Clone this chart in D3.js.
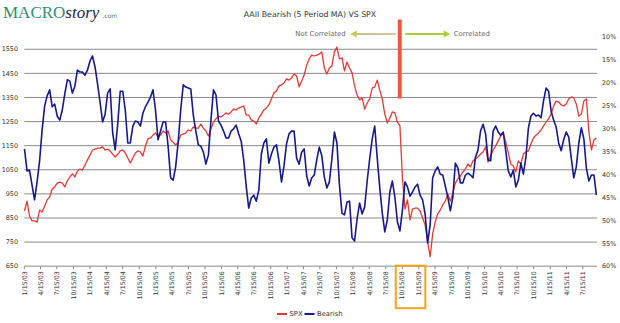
<!DOCTYPE html>
<html>
<head>
<meta charset="utf-8">
<script src="https://cdn.jsdelivr.net/npm/d3@7"></script>
<style>
  html, body { margin: 0; padding: 0; background: #fff; }
  svg { display: block; }
  text { font-family: "DejaVu Sans", Verdana, sans-serif; }
</style>
</head>
<body>
<svg id="chart" width="620" height="323"></svg>
<script>
// Fortnightly observations, first one on 16 Jan 2003
const firstObservation = "2003-01-16";
const observationStepDays = 14;

// S&P 500 index level
const spx = [
  879, 920, 858, 838, 838, 833, 883, 875, 900, 925,
  937, 970, 979, 995, 999, 995, 979, 1004, 1020, 1033,
  1020, 1045, 1053, 1049, 1070, 1091, 1111, 1132, 1136, 1140,
  1140, 1145, 1132, 1136, 1128, 1115, 1103, 1115, 1128, 1132,
  1120, 1099, 1078, 1099, 1120, 1128, 1124, 1107, 1149, 1178,
  1182, 1194, 1203, 1186, 1194, 1211, 1203, 1211, 1174, 1165,
  1153, 1165, 1194, 1198, 1203, 1215, 1211, 1228, 1223, 1223,
  1240, 1223, 1211, 1190, 1219, 1248, 1261, 1273, 1269, 1277,
  1286, 1281, 1290, 1302, 1298, 1306, 1310, 1315, 1277, 1277,
  1257, 1252, 1240, 1265, 1281, 1298, 1306, 1319, 1344, 1369,
  1377, 1398, 1402, 1410, 1427, 1422, 1431, 1447, 1439, 1394,
  1418, 1443, 1485, 1510, 1526, 1522, 1526, 1530, 1539, 1472,
  1447, 1472, 1481, 1539, 1559, 1510, 1514, 1460, 1497, 1472,
  1452, 1398, 1360, 1340, 1348, 1302, 1327, 1344, 1389, 1394,
  1422, 1381, 1344, 1281, 1244, 1265, 1290, 1286, 1248, 1232,
  1016, 887, 925, 842, 887, 891, 891, 879, 850, 821,
  750, 690, 784, 833, 867, 883, 904, 920, 950, 920,
  954, 995, 1012, 1024, 1041, 1053, 1074, 1062, 1087, 1095,
  1103, 1115, 1124, 1145, 1082, 1107, 1132, 1149, 1169, 1190,
  1203, 1165, 1120, 1074, 1066, 1041, 1087, 1074, 1115, 1124,
  1128, 1157, 1182, 1194, 1203, 1215, 1232, 1248, 1261, 1281,
  1315, 1335, 1331, 1319, 1315, 1323, 1344, 1352, 1348, 1323,
  1273, 1281, 1335, 1344, 1207, 1132, 1174, 1182
];

// AAII bearish share, 5-period moving average (%)
const bearish = [
  34.4, 39.2, 39.0, 42.3, 45.5, 41.6, 37.0, 30.3, 25.0, 22.8,
  21.5, 25.2, 24.6, 27.2, 28.1, 25.9, 22.4, 19.3, 19.6, 22.2,
  20.7, 17.2, 17.6, 17.6, 18.3, 17.2, 15.2, 14.1, 16.5, 20.2,
  24.2, 28.5, 26.8, 22.2, 21.3, 30.9, 34.6, 29.0, 21.8, 21.8,
  25.9, 33.1, 33.1, 29.4, 28.3, 28.5, 29.4, 26.6, 25.2, 24.2,
  23.1, 21.5, 25.9, 32.4, 30.5, 28.5, 28.5, 33.8, 40.7, 41.2,
  38.3, 32.9, 25.9, 20.4, 20.9, 21.1, 21.3, 27.0, 30.5, 33.5,
  33.8, 35.1, 37.7, 35.7, 28.1, 21.5, 22.6, 28.3, 29.2, 30.5,
  32.0, 32.0, 30.5, 30.0, 29.2, 31.1, 32.7, 36.8, 42.5, 47.3,
  45.1, 44.5, 45.8, 43.4, 35.5, 33.1, 32.2, 37.5, 35.5, 34.0,
  33.5, 37.0, 41.6, 38.1, 33.3, 31.1, 30.5, 30.5, 36.4, 37.7,
  35.1, 34.4, 40.3, 42.5, 40.7, 40.1, 36.8, 34.0, 35.9, 40.5,
  42.9, 41.6, 36.6, 30.7, 33.1, 42.3, 48.4, 48.8, 46.0, 45.8,
  53.8, 54.5, 49.7, 46.2, 48.6, 47.1, 41.4, 36.6, 32.2, 29.4,
  36.4, 42.9, 48.4, 52.5, 49.9, 43.8, 41.4, 44.9, 50.3, 52.3,
  47.7, 41.6, 42.7, 44.7, 43.8, 42.7, 42.1, 44.5, 45.5, 48.6,
  54.9, 51.0, 40.7, 39.2, 38.3, 39.9, 40.1, 42.5, 44.9, 47.9,
  44.9, 37.5, 38.6, 41.8, 41.8, 40.1, 39.7, 40.1, 40.7, 36.2,
  34.6, 30.5, 29.0, 31.1, 36.8, 37.0, 30.5, 29.4, 30.7, 31.4,
  30.7, 34.8, 39.2, 40.5, 39.0, 42.7, 41.2, 37.5, 39.9, 36.2,
  29.8, 27.2, 26.6, 27.2, 27.0, 27.6, 23.9, 21.1, 21.8, 26.1,
  28.1, 29.6, 33.1, 34.8, 32.4, 30.7, 31.8, 36.4, 40.7, 38.3,
  33.1, 29.8, 32.2, 38.6, 41.4, 40.1, 40.1, 44.5
];

const spxTicks = [650, 750, 850, 950, 1050, 1150, 1250, 1350, 1450, 1550];
const bearishTicks = [10, 15, 20, 25, 30, 35, 40, 45, 50, 55, 60];
const dateTicks = [
  "1/15/03", "4/15/03", "7/15/03", "10/15/03",
  "1/15/04", "4/15/04", "7/15/04", "10/15/04",
  "1/15/05", "4/15/05", "7/15/05", "10/15/05",
  "1/15/06", "4/15/06", "7/15/06", "10/15/06",
  "1/15/07", "4/15/07", "7/15/07", "10/15/07",
  "1/15/08", "4/15/08", "7/15/08", "10/15/08",
  "1/15/09", "4/15/09", "7/15/09", "10/15/09",
  "1/15/10", "4/15/10", "7/15/10", "10/15/10",
  "1/15/11", "4/15/11", "7/15/11"
];
const highlightedTicks = ["10/15/08", "1/15/09"];
const breakDate = "2008-10-01";
const seriesNames = ["SPX", "Bearish"];
const title = "AAII Bearish (5 Period MA) VS SPX";
const leftNote = "Not Correlated";
const rightNote = "Correlated";

const C = {
  spx: "#e23b36",
  bearish: "#15198c",
  grid: "#8a8a8a",
  text: "#333",
  note: "#666",
  teal: "#2f8c7a",
  navy: "#1d2440",
  bar: "#f2563f",
  box: "#f4a41c",
  arrowR: "#a9d03a"
};

const svg = d3.select("#chart");
const parseTick = d3.timeParse("%m/%d/%y");
const parseIso = d3.timeParse("%Y-%m-%d");
const start = parseIso(firstObservation);
const dates = spx.map((_, i) => d3.timeDay.offset(start, i * observationStepDays));

const plot = { left: 24.3, right: 597, top: 37.2, bottom: 266.2 };

const x = d3.scaleTime()
  .domain([parseTick("1/15/03"), new Date(2011, 9, 2)])
  .range([plot.left, plot.right]);
const yL = d3.scaleLinear().domain([650, 1600]).range([plot.bottom, plot.top]);
const yR = d3.scaleLinear().domain([10, 60]).range([plot.top, plot.bottom]);

// Logo
const logo = svg.append("text").attr("x", 3).attr("y", 18.3)
  .style("font-family", "'Liberation Serif', 'Times New Roman', serif");
logo.append("tspan").text("MACRO").attr("fill", C.teal).style("font-size", "17px");
logo.append("tspan").text("story").attr("fill", C.navy)
  .style("font-size", "17px").style("font-style", "italic");
logo.append("tspan").text(".com").attr("fill", "#4a6f7d")
  .attr("dx", 3).style("font-size", "6px").style("font-family", "'DejaVu Sans', sans-serif");

// Title
svg.append("text").attr("x", 310).attr("y", 17.3).attr("text-anchor", "middle")
  .attr("fill", C.text).style("font-size", "7.8px").text(title);

// Horizontal gridlines (left axis)
svg.append("g").selectAll("line").data(spxTicks).join("line")
  .attr("x1", plot.left).attr("x2", plot.right)
  .attr("y1", d => yL(d)).attr("y2", d => yL(d))
  .attr("stroke", C.grid).attr("stroke-width", 1);

// Left axis labels
svg.append("g").selectAll("text").data(spxTicks).join("text")
  .attr("x", 18).attr("y", d => yL(d)).attr("dy", "0.35em")
  .attr("text-anchor", "end").attr("fill", C.text)
  .style("font-size", "6.4px").text(d => d);

// Right axis labels
svg.append("g").selectAll("text").data(bearishTicks).join("text")
  .attr("x", 602).attr("y", d => yR(d)).attr("dy", "0.35em")
  .attr("fill", C.text).style("font-size", "6.4px").text(d => d + "%");

// Bottom ticks and rotated date labels
const tickDates = dateTicks.map(parseTick);
svg.append("g").selectAll("line").data(tickDates).join("line")
  .attr("x1", d => x(d)).attr("x2", d => x(d))
  .attr("y1", plot.bottom).attr("y2", plot.bottom + 3)
  .attr("stroke", C.grid).attr("stroke-width", 1);
svg.append("g").selectAll("text").data(dateTicks).join("text")
  .attr("transform", d => `translate(${x(parseTick(d))},${plot.bottom + 5}) rotate(-90)`)
  .attr("dy", "0.35em").attr("text-anchor", "end")
  .attr("fill", C.text).style("font-size", "6.3px").text(d => d);

// Series lines
const lineL = d3.line().x((d, i) => x(dates[i])).y(d => yL(d));
const lineR = d3.line().x((d, i) => x(dates[i])).y(d => yR(d));
svg.append("path").datum(spx).attr("d", lineL)
  .attr("fill", "none").attr("stroke", C.spx).attr("stroke-width", 1.3)
  .attr("stroke-linejoin", "round");
svg.append("path").datum(bearish).attr("d", lineR)
  .attr("fill", "none").attr("stroke", C.bearish).attr("stroke-width", 1.6)
  .attr("stroke-linejoin", "round");

// Regime break marker
const bx = x(parseIso(breakDate));
svg.append("rect").attr("x", bx - 2).attr("y", 19.5).attr("width", 4).attr("height", 79)
  .attr("fill", C.bar);

// Arrows and notes
const defs = svg.append("defs");
const grad = defs.append("linearGradient").attr("id", "leftArrow")
  .attr("x1", "0%").attr("x2", "100%");
grad.append("stop").attr("offset", "0%").attr("stop-color", "#b9cc45");
grad.append("stop").attr("offset", "35%").attr("stop-color", "#cfc293");
grad.append("stop").attr("offset", "100%").attr("stop-color", "#d8c4a4");
const ay = 34;
svg.append("path")
  .attr("d", `M${bx - 49.5},${ay} L${bx - 43},${ay - 3.5} L${bx - 43},${ay - 1} L${bx - 4},${ay - 1} L${bx - 4},${ay + 1} L${bx - 43},${ay + 1} L${bx - 43},${ay + 3.5} Z`)
  .attr("fill", "url(#leftArrow)");
svg.append("path")
  .attr("d", `M${bx + 50.5},${ay} L${bx + 44},${ay - 3.5} L${bx + 44},${ay - 1} L${bx + 5.5},${ay - 1} L${bx + 5.5},${ay + 1} L${bx + 44},${ay + 1} L${bx + 44},${ay + 3.5} Z`)
  .attr("fill", C.arrowR);
svg.append("text").attr("x", bx - 54).attr("y", ay).attr("dy", "0.35em")
  .attr("text-anchor", "end").attr("fill", C.note).style("font-size", "6.9px").text(leftNote);
svg.append("text").attr("x", bx + 54).attr("y", ay).attr("dy", "0.35em")
  .attr("fill", C.note).style("font-size", "6.9px").text(rightNote);

// Box around the crash-period labels
const hx = highlightedTicks.map(d => x(parseTick(d)));
svg.append("rect")
  .attr("x", hx[0] - 6.5).attr("y", plot.bottom - 0.5)
  .attr("width", hx[1] - hx[0] + 13).attr("height", 42.5)
  .attr("fill", "none").attr("stroke", C.box).attr("stroke-width", 2);

// Legend
const legend = svg.append("g").attr("transform", "translate(277,314)");
const items = [
  { name: seriesNames[0], color: C.spx, x0: 0 },
  { name: seriesNames[1], color: C.bearish, x0: 27.5 }
];
items.forEach(it => {
  legend.append("line").attr("x1", it.x0).attr("x2", it.x0 + 10)
    .attr("y1", 0).attr("y2", 0).attr("stroke", it.color).attr("stroke-width", 2);
  legend.append("text").attr("x", it.x0 + 12.5).attr("y", 0).attr("dy", "0.35em")
    .attr("fill", C.text).style("font-size", "6.8px").text(it.name);
});
</script>
</body>
</html>
